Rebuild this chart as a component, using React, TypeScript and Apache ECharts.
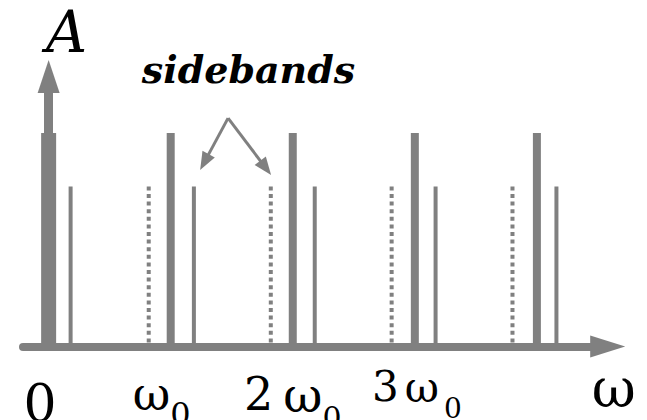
import React, { useEffect, useRef } from "react";
import * as echarts from "echarts";

// Frequencies are in units of the fundamental ω0, amplitudes relative to the carrier.
const dcFreqs = [0];
const dcAmps = [1];
const carrierFreqs = [1, 2, 3, 4];
const carrierAmps = [1, 1, 1, 1];
const upperSidebandFreqs = [0.18, 1.19, 2.18, 3.17, 4.16];
const upperSidebandAmps = [0.75, 0.75, 0.75, 0.75, 0.75];
const lowerSidebandFreqs = [0.82, 1.82, 2.81, 3.8];
const lowerSidebandAmps = [0.75, 0.75, 0.75, 0.75];

const tickValues = [0, 1, 2, 3];
const tickLabels = ["{z0|0}", "{w1|ω}{s1|0}", "{d2|2}{w2|ω}{s2|0}", "{d3|3}{w3|ω}{s3|0}"];

// Annotation arrows pointing at a pair of sidebands: [from, to] in data units
const annotationArrows = [
  [[1.47, 1.07], [1.276, 0.864]],
  [[1.47, 1.07], [1.778, 0.837]],
];

const GRAY = "#808080";
const SERIF = '"DejaVu Serif", serif';

function solidBars(xs: number[], ys: number[], width: number) {
  return {
    type: "custom",
    data: xs.map((x, i) => [x, ys[i]]),
    z: 3,
    renderItem: (_p: any, api: any) => {
      const base = api.coord([api.value(0), 0]);
      const top = api.coord([api.value(0), api.value(1)]);
      return {
        type: "rect",
        shape: { x: base[0] - width / 2, y: top[1], width, height: base[1] - top[1] },
        style: { fill: GRAY },
      };
    },
  };
}

function dottedBars(xs: number[], ys: number[], width: number) {
  return {
    type: "custom",
    data: xs.map((x, i) => [x, ys[i]]),
    z: 3,
    renderItem: (_p: any, api: any) => {
      const base = api.coord([api.value(0), 0]);
      const top = api.coord([api.value(0), api.value(1)]);
      return {
        type: "line",
        shape: { x1: top[0], y1: top[1], x2: base[0], y2: base[1] },
        style: { stroke: GRAY, lineWidth: width, lineDash: [4, 3.6] },
      };
    },
  };
}

const LH = 100;
const tok = (fontSize: number, padding: number[]) => ({
  fontFamily: SERIF,
  fontSize,
  color: "#000",
  lineHeight: LH,
  padding,
});

export default function App() {
  const ref = useRef<HTMLDivElement>(null);

  useEffect(() => {
    if (!ref.current) return;
    const chart = echarts.init(ref.current, null, { renderer: "svg" });
    chart.setOption({
      animation: false,
      grid: {
        left: 23,
        right: 39.3,
        top: 76.5,
        bottom: 73.5,
        containLabel: false,
        outerBoundsMode: "none",
      },
      xAxis: {
        type: "value",
        min: -0.21,
        max: 4.58,
        axisLine: {
          show: true,
          onZero: true,
          symbol: ["none", "triangle"],
          symbolSize: [22, 35],
          lineStyle: { color: GRAY, width: 8 },
        },
        axisTick: { show: false },
        splitLine: { show: false },
        axisLabel: {
          customValues: tickValues,
          margin: 10,
          hideOverlap: false,
          formatter: (v: number) => tickLabels[tickValues.indexOf(v)] ?? "",
          rich: {
            z0: tok(52, [0, 17, 8, 0]),
            w1: tok(46, [0, 0, 26, 0]),
            s1: tok(32, [15, 18, 0, 0]),
            d2: tok(46, [0, 10, 26, 0]),
            w2: tok(48, [0, 0, 24, 0]),
            s2: tok(30, [21, 0, 0, 0]),
            d3: tok(42, [0, 6, 41, 4]),
            w3: tok(42, [0, 0, 38, 0]),
            s3: tok(28, [4, 0, 0, 5]),
          },
        },
        name: "ω",
        nameLocation: "end",
        nameGap: 6,
        nameTextStyle: {
          fontFamily: SERIF,
          fontSize: 54,
          color: "#000",
          align: "center",
          verticalAlign: "top",
          lineHeight: 84,
        },
      },
      yAxis: {
        type: "value",
        min: 0,
        max: 1.265,
        axisLine: {
          show: true,
          onZero: true,
          symbol: ["none", "triangle"],
          symbolSize: [22, 33],
          lineStyle: { color: GRAY, width: 9 },
        },
        axisTick: { show: false },
        axisLabel: { show: false },
        splitLine: { show: false },
        name: "A",
        nameLocation: "end",
        nameGap: 44.5,
        nameTextStyle: {
          fontFamily: SERIF,
          fontStyle: "italic",
          fontSize: 57,
          color: "#000",
          align: "center",
          verticalAlign: "middle",
          padding: [0, 0, 0, 36],
        },
      },
      graphic: [
        {
          type: "text",
          x: 248.5,
          y: 69,
          style: {
            text: "sidebands",
            font: 'italic bold 38px "DejaVu Serif", serif',
            fill: "#000",
            align: "center",
            verticalAlign: "middle",
          },
        },
      ],
      series: [
        solidBars(dcFreqs, dcAmps, 15),
        solidBars(carrierFreqs, carrierAmps, 8),
        solidBars(upperSidebandFreqs, upperSidebandAmps, 4),
        dottedBars(lowerSidebandFreqs, lowerSidebandAmps, 4),
        {
          type: "line",
          data: [],
          markLine: {
            silent: true,
            symbol: ["none", "triangle"],
            symbolSize: [14, 18],
            label: { show: false },
            lineStyle: { color: GRAY, width: 3, type: "solid" },
            data: annotationArrows.map(([a, b]) => [{ coord: a }, { coord: b }]),
          },
        },
      ],
    });
    return () => chart.dispose();
  }, []);

  return (
    <div
      ref={ref}
      style={{ position: "absolute", left: 0, top: 0, width: 647, height: 420, background: "#fff" }}
    />
  );
}
